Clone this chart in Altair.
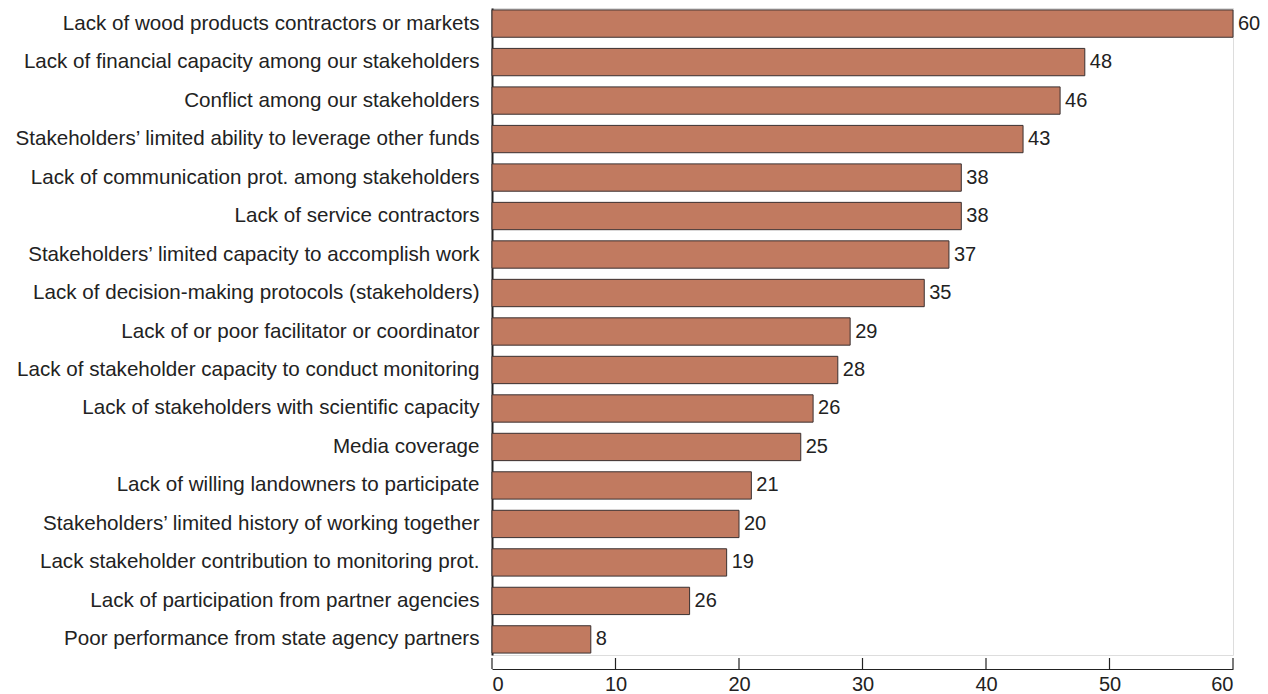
import altair as alt
import pandas as pd

categories = [
    "Lack of wood products contractors or markets",
    "Lack of financial capacity among our stakeholders",
    "Conflict among our stakeholders",
    "Stakeholders\u2019 limited ability to leverage other funds",
    "Lack of communication prot. among stakeholders",
    "Lack of service contractors",
    "Stakeholders\u2019 limited capacity to accomplish work",
    "Lack of decision-making protocols (stakeholders)",
    "Lack of or poor facilitator or coordinator",
    "Lack of stakeholder capacity to conduct monitoring",
    "Lack of stakeholders with scientific capacity",
    "Media coverage",
    "Lack of willing landowners to participate",
    "Stakeholders\u2019 limited history of working together",
    "Lack stakeholder contribution to monitoring prot.",
    "Lack of participation from partner agencies",
    "Poor performance from state agency partners",
]
values = [60, 48, 46, 43, 38, 38, 37, 35, 29, 28, 26, 25, 21, 20, 19, 16, 8]
value_labels = ["60", "48", "46", "43", "38", "38", "37", "35", "29", "28",
                "26", "25", "21", "20", "19", "26", "8"]
x_ticks = [0, 10, 20, 30, 40, 50, 60]

W, H = 741, 647
OFF = 14

df = pd.DataFrame({"cat": categories, "val": values, "lab": value_labels})
tick_df = pd.DataFrame({"t": x_ticks})

xscale = alt.Scale(domain=[0, 60], nice=False, zero=True)
yscale = alt.Scale(paddingInner=0.29, paddingOuter=0.05)

bars = alt.Chart(df).mark_bar(color="#C17A60", stroke="#3a3030", strokeWidth=1).encode(
    x=alt.X("val:Q", scale=xscale,
            axis=alt.Axis(values=x_ticks, title=None, grid=False, ticks=False,
                          offset=OFF, domainColor="#222", domainWidth=1.2,
                          labelFont="Liberation Sans", labelFontSize=20,
                          labelColor="#222", labelPadding=5)),
    y=alt.Y("cat:N", sort=categories, scale=yscale,
            axis=alt.Axis(title=None, ticks=False, domainColor="#222", domainWidth=2,
                          labelFont="Liberation Sans", labelFontSize=20.6,
                          labelColor="#222", labelPadding=13, labelLimit=600)),
)

text = alt.Chart(df).mark_text(align="left", baseline="middle", dx=5,
                               font="Liberation Sans", fontSize=20, color="#222").encode(
    x=alt.X("val:Q", scale=xscale),
    y=alt.Y("cat:N", sort=categories, scale=yscale),
    text="lab:N",
)

ticks = alt.Chart(tick_df).mark_rule(color="#222", strokeWidth=1.2).encode(
    x=alt.X("t:Q", scale=xscale),
    y=alt.value(H + OFF - 11),
    y2=alt.value(H + OFF),
)

chart = alt.layer(bars, text, ticks).properties(
    width=W, height=H,
    autosize=alt.AutoSizeParams(type="none"),
    padding={"left": 484, "top": 0, "right": 27, "bottom": 39},
).configure_view(stroke=None).configure(background="white")

chart.save("out.html", embed_options={"renderer": "svg", "actions": False})
